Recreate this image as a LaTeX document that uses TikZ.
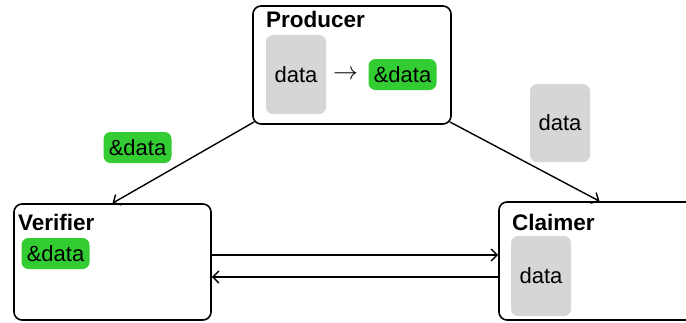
\documentclass[tikz,border=0pt]{standalone}
\usepackage{fontspec}
\setmainfont{Liberation Sans}
\usetikzlibrary{arrows.meta}
\definecolor{gbox}{HTML}{33CC33}
\definecolor{dbox}{HTML}{D6D6D6}
\begin{document}
\begin{tikzpicture}[x=1pt,y=-1pt,
  party/.style={draw=black, line width=1.6pt, rounded corners=8pt, fill=white, inner sep=0pt},
  title/.style={anchor=base west, inner sep=0pt, font=\fontsize{22.5}{26}\selectfont\bfseries},
  graybox/.style={fill=dbox, rounded corners=7pt, inner sep=0pt, minimum width=60pt, font=\fontsize{22}{26}\selectfont},
  greenbox/.style={fill=gbox, rounded corners=7pt, inner sep=0pt, minimum width=68pt, minimum height=31pt, font=\fontsize{22}{26}\selectfont},
  link/.style={line width=1.4pt, -{Straight Barb[length=6pt,width=12pt,line width=1.4pt]}}
]
\useasboundingbox (0,0) rectangle (686,322);
% party boxes
\node[party, minimum width=198pt, minimum height=118pt] (prod) at (352,65) {};
\node[party, minimum width=197pt, minimum height=116pt] (ver) at (112.5,262) {};
\node[party, minimum width=201pt, minimum height=118pt] (cla) at (599.5,261) {};
% titles
\node[title] (prodt) at (266,27) {Producer};
\node[title] (vert) at (18,230) {Verifier};
\node[title] (clat) at (512,230) {Claimer};
% producer content
\node[graybox, minimum height=79pt] (pdata) at (296,74.5) {data};
\node[inner sep=0pt, font=\fontsize{23}{26}\selectfont] (parrow) at (345.5,75) {$\rightarrow$};
\node[greenbox] (pref) at (402.5,74.5) {\&data};
% floating items
\node[greenbox] (fref) at (137.5,147.5) {\&data};
\node[graybox, minimum height=78pt] (fdata) at (560,123) {data};
% verifier / claimer content
\node[greenbox] (vref) at (55.5,253.5) {\&data};
\node[graybox, minimum height=80pt] (cdata) at (541,276) {data};
% connectors
\coordinate (ps1) at (254,122);
\coordinate (ps2) at (450,122);
\draw[link] (ps1) -- (ver.north);
\draw[link] (ps2) -- (cla.north);
\coordinate (h1) at ([yshift=7pt]ver.east);
\coordinate (h2) at ([yshift=-15pt]ver.east);
\draw[link] (h1) -- (h1 -| cla.west);
\draw[link] (h2 -| cla.west) -- (h2);
\end{tikzpicture}
\end{document}
